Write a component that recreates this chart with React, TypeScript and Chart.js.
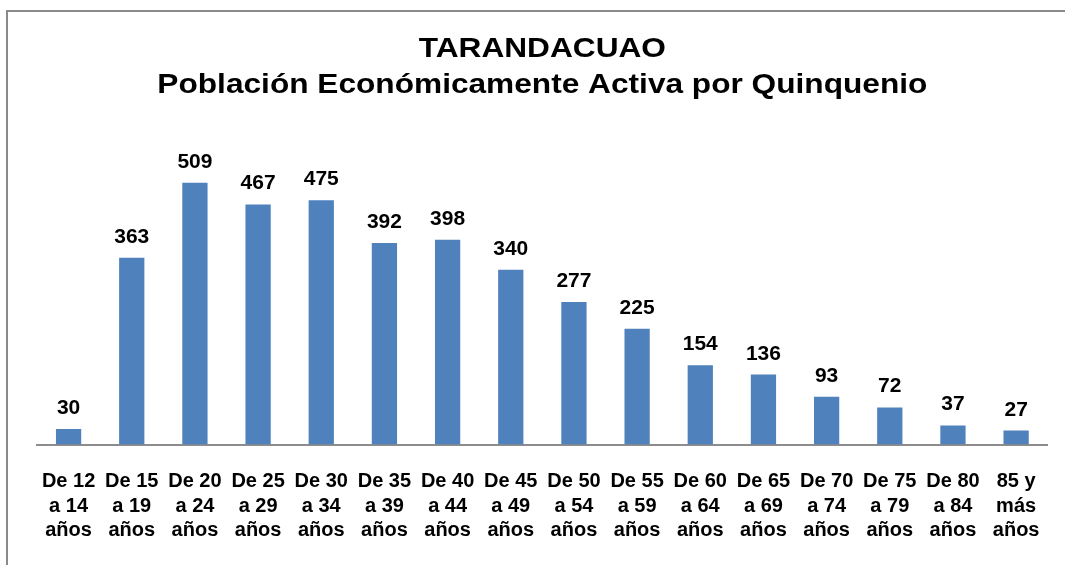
import React, { useEffect, useRef } from "react";
import { Chart, registerables } from "chart.js";

Chart.register(...registerables);

const titleLines = ["TARANDACUAO", "Población Económicamente Activa por Quinquenio"];

const categories: string[][] = [
  ["De 12", "a 14", "años"],
  ["De 15", "a 19", "años"],
  ["De 20", "a 24", "años"],
  ["De 25", "a 29", "años"],
  ["De 30", "a 34", "años"],
  ["De 35", "a 39", "años"],
  ["De 40", "a 44", "años"],
  ["De 45", "a 49", "años"],
  ["De 50", "a 54", "años"],
  ["De 55", "a 59", "años"],
  ["De 60", "a 64", "años"],
  ["De 65", "a 69", "años"],
  ["De 70", "a 74", "años"],
  ["De 75", "a 79", "años"],
  ["De 80", "a 84", "años"],
  ["85 y", "más", "años"],
];

const values: number[] = [30, 363, 509, 467, 475, 392, 398, 340, 277, 225, 154, 136, 93, 72, 37, 27];

const FONT = '"Liberation Sans", Arial, Helvetica, sans-serif';

const titlePlugin = {
  id: "stretchedTitle",
  afterDraw(chart: any) {
    const { ctx, chartArea } = chart;
    const cx = (chartArea.left + chartArea.right) / 2;
    const baselines = [57, 93];
    ctx.save();
    ctx.fillStyle = "#000000";
    ctx.font = `bold 28px ${FONT}`;
    ctx.textAlign = "center";
    ctx.textBaseline = "alphabetic";
    titleLines.forEach((line, i) => {
      ctx.save();
      ctx.translate(cx, baselines[i]);
      ctx.scale(1.13, 1);
      ctx.fillText(line, 0, 0);
      ctx.restore();
    });
    ctx.restore();
  },
};

const valueLabelPlugin = {
  id: "valueLabels",
  afterDatasetsDraw(chart: any) {
    const { ctx } = chart;
    const meta = chart.getDatasetMeta(0);
    const data = chart.data.datasets[0].data as number[];
    ctx.save();
    ctx.fillStyle = "#000000";
    ctx.font = `bold 20px ${FONT}`;
    ctx.textAlign = "center";
    ctx.textBaseline = "alphabetic";
    meta.data.forEach((bar: any, i: number) => {
      ctx.save();
      ctx.translate(bar.x, bar.y - 15);
      ctx.scale(1.05, 1);
      ctx.fillText(String(data[i]), 0, 0);
      ctx.restore();
    });
    ctx.restore();
  },
};

export default function App() {
  const canvasRef = useRef<HTMLCanvasElement | null>(null);

  useEffect(() => {
    if (!canvasRef.current) return;
    const chart = new Chart(canvasRef.current, {
      type: "bar",
      data: {
        labels: categories,
        datasets: [
          {
            data: values,
            backgroundColor: "#4F81BD",
            borderWidth: 0,
            barPercentage: 0.4,
            categoryPercentage: 1,
          },
        ],
      },
      options: {
        animation: false,
        responsive: true,
        maintainAspectRatio: false,
        layout: { padding: { top: 136, left: 37, right: 17, bottom: 2 } },
        plugins: {
          legend: { display: false },
          title: { display: false },
          tooltip: { enabled: false },
        },
        scales: {
          x: {
            offset: true,
            grid: { display: false, drawTicks: false },
            border: { display: true, color: "#8c8c8c", width: 2 },
            ticks: {
              color: "#000000",
              padding: 25,
              maxRotation: 0,
              autoSkip: false,
              font: { family: FONT, size: 20, weight: "bold", lineHeight: 1.225 },
            },
          },
          y: {
            display: false,
            min: 0,
            max: 600,
          },
        },
      },
      plugins: [titlePlugin, valueLabelPlugin],
    });
    return () => chart.destroy();
  }, []);

  return (
    <div
      style={{
        position: "fixed",
        left: 0,
        top: 0,
        width: 1065,
        height: 565,
        overflow: "hidden",
        background: "#ffffff",
      }}
    >
      <div
        style={{
          position: "absolute",
          left: 6,
          top: 10,
          width: 1200,
          height: 700,
          borderTop: "2px solid #8a8a8a",
          borderLeft: "2px solid #8a8a8a",
          boxSizing: "border-box",
        }}
      />
      <div style={{ position: "absolute", left: 0, top: 0, width: 1065, height: 570 }}>
        <canvas ref={canvasRef} />
      </div>
    </div>
  );
}
